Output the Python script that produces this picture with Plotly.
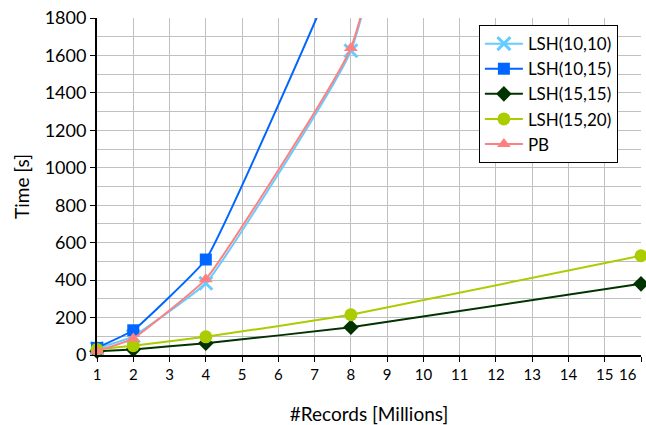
import plotly.graph_objects as go

records = [1, 2, 4, 8, 16]
lsh_10_10 = [35, 100, 383, 1625, 8500]
lsh_10_15 = [38, 132, 510, 2250, 9000]
lsh_15_15 = [20, 30, 63, 148, 380]
lsh_15_20 = [30, 50, 97, 215, 530]
pb = [22, 88, 405, 1640, 8600]
x_ticks = list(range(1, 17))
x_tick_labels = [str(v) for v in x_ticks]

FONT = "Lato"

series = [
    ("LSH(10,10)", lsh_10_10, "#66ccff", "x-thin", 13, 3),
    ("LSH(10,15)", lsh_10_15, "#0066ff", "square", 12, None),
    ("LSH(15,15)", lsh_15_15, "#003300", "diamond", 12, None),
    ("LSH(15,20)", lsh_15_20, "#aacc00", "circle", 13, None),
    ("PB", pb, "#ff8080", "triangle-up", 12, None),
]

fig = go.Figure()
for i in range(5):
    name, ys, color, sym, size, lw = series[i]
    marker = dict(symbol=sym, size=size, color=color)
    if sym == "x-thin":
        marker["line"] = dict(color=color, width=lw)
    fig.add_trace(go.Scatter(
        x=records, y=ys, name=name, mode="lines+markers",
        line=dict(color=color, width=2, shape="spline", smoothing=0.3),
        marker=marker, cliponaxis=False,
    ))

# last tick label is drawn right-aligned so it stays inside the page
shown_labels = x_tick_labels[:-1] + [""]
fig.add_annotation(
    x=x_ticks[-1], y=0, xref="x", yref="paper", text=x_tick_labels[-1],
    showarrow=False, xanchor="right", yanchor="top", xshift=-2, yshift=-8,
    font=dict(size=15, family=FONT, color="black"),
)

fig.update_layout(
    width=646, height=425,
    margin=dict(l=97, r=5, t=18, b=70),
    paper_bgcolor="white", plot_bgcolor="white",
    font=dict(family=FONT, size=15, color="black"),
    showlegend=True,
    legend=dict(
        x=0.702, y=0.979, xanchor="left", yanchor="top",
        bordercolor="black", borderwidth=1, bgcolor="white",
        font=dict(size=17, family=FONT), tracegroupgap=0,
        itemwidth=38,
    ),
    xaxis=dict(
        range=[1, 16], tickmode="array", tickvals=x_ticks, ticktext=shown_labels,
        showgrid=True, gridcolor="#c0c0c0", gridwidth=1,
        showline=True, linecolor="black", linewidth=2,
        ticks="outside", ticklen=5, tickcolor="black",
        tickfont=dict(size=15), zeroline=False,
        ticklabeloverflow="allow", automargin=False,
        title=dict(text="#Records [Millions]", font=dict(size=19), standoff=27),
    ),
    yaxis=dict(
        range=[0, 1800], tickmode="linear", tick0=0, dtick=200,
        showgrid=True, gridcolor="#c0c0c0", gridwidth=1,
        minor=dict(dtick=100, showgrid=True, gridcolor="#c0c0c0", gridwidth=1),
        showline=True, linecolor="black", linewidth=2,
        ticks="outside", ticklen=5, tickcolor="black",
        tickfont=dict(size=18), zeroline=False, automargin=False,
        title=dict(text="Time [s]", font=dict(size=19), standoff=10),
    ),
)

fig.write_html("out.html", config={"displayModeBar": False},
               post_script="document.body.style.margin='0';")
